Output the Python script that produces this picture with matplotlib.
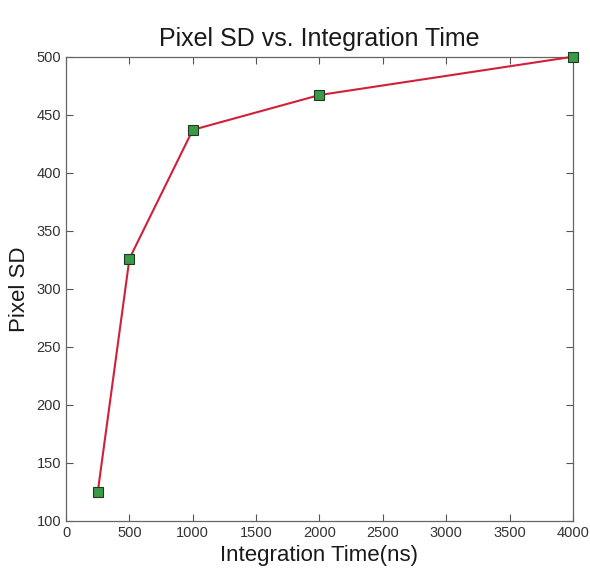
import matplotlib
matplotlib.use('Agg')
import matplotlib.pyplot as plt

integration_time = [250, 500, 1000, 2000, 4000]
pixel_sd = [125, 326, 437, 467, 500]
x_ticks = [0, 500, 1000, 1500, 2000, 2500, 3000, 3500, 4000]
y_ticks = [100, 150, 200, 250, 300, 350, 400, 450, 500]

plt.rcParams['font.family'] = ['Liberation Sans', 'DejaVu Sans']

fig = plt.figure(figsize=(5.9, 5.76), dpi=100)
ax = fig.add_axes([0.112, 0.0955, 0.859, 0.806])

ax.plot(integration_time, pixel_sd, color='#d0203a', lw=1.5,
        marker='s', markersize=6.5, markerfacecolor='#3a9a48',
        markeredgecolor='#1e3a22', markeredgewidth=0.8, clip_on=False,
        zorder=3)

ax.set_xlim(0, 4000)
ax.set_ylim(100, 500)
ax.set_xticks(x_ticks)
ax.set_yticks(y_ticks)
ax.tick_params(direction='in', length=5, labelsize=10.5, color='#555555',
               labelcolor='#333333', top=True, right=True)
for s in ax.spines.values():
    s.set_color('#666666')
    s.set_linewidth(0.9)

ax.set_title('Pixel SD vs. Integration Time', fontsize=18, color='#1a1a1a', pad=8)
ax.set_xlabel('Integration Time(ns)', fontsize=16, color='#1a1a1a', labelpad=4)
ax.set_ylabel('Pixel SD', fontsize=16, color='#1a1a1a', labelpad=5)

fig.savefig('out.png', dpi=100)
